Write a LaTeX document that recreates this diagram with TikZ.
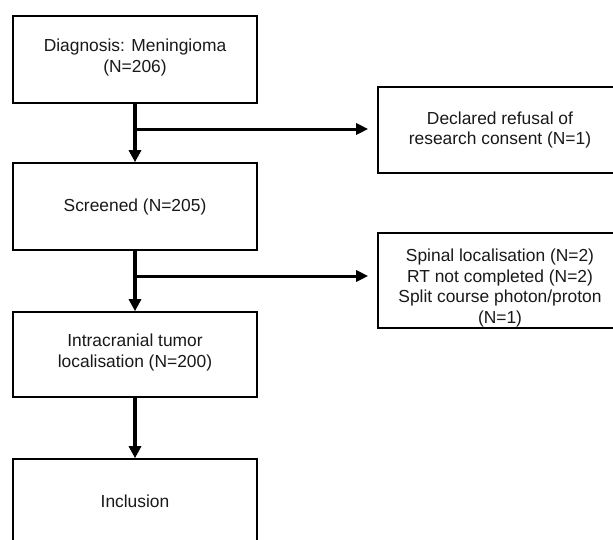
\documentclass[tikz,border=0pt]{standalone}
\usepackage{fontspec}
\setmainfont{Liberation Sans}
\usetikzlibrary{arrows.meta}
\begin{document}
\begin{tikzpicture}[x=1pt,y=-1pt,
  box/.style={draw=black,line width=1.6pt,rectangle,inner sep=0pt,align=center,
    font=\fontsize{17.4}{20.5}\selectfont,text=black!90},
  flow/.style={line width=3.4pt,-{Triangle[length=12pt,width=12pt]}},
  side/.style={line width=3pt,-{Triangle[length=12pt,width=11pt]},shorten >=9pt}]
\useasboundingbox[fill=white] (0,0) rectangle (613,539);
\node[box,minimum width=244pt,minimum height=87pt] (b1) at (135,59.5) {Diagnosis: Meningioma\\(N=206)\rule[-8pt]{0pt}{8pt}};
\node[box,minimum width=244pt,minimum height=87pt] (b2) at (135,206.5) {Screened (N=205)};
\node[box,minimum width=244pt,minimum height=85pt] (b3) at (135,354.5) {Intracranial tumor\\localisation (N=200)\rule[-8pt]{0pt}{8pt}};
\node[box,minimum width=244pt,minimum height=84pt] (b4) at (135,501) {Inclusion};
\node[box,minimum width=244pt,minimum height=86pt] (r1) at (500,130) {Declared refusal of\\research consent (N=1)};
\node[box,minimum width=244pt,minimum height=95pt] (r2) at (500,280.5) {\rule{0pt}{28pt}Spinal localisation (N=2)\\RT not completed (N=2)\\Split course photon/proton\\(N=1)};
\coordinate (j1) at (135,129);
\coordinate (j2) at (135,276);
\draw[flow] (b1.south) -- (b2.north);
\draw[flow] (b2.south) -- (b3.north);
\draw[flow] (b3.south) -- (b4.north);
\draw[side] ([xshift=-1.5pt]j1) -- (j1 -| r1.west);
\draw[side] ([xshift=-1.5pt]j2) -- (j2 -| r2.west);
\end{tikzpicture}
\end{document}
